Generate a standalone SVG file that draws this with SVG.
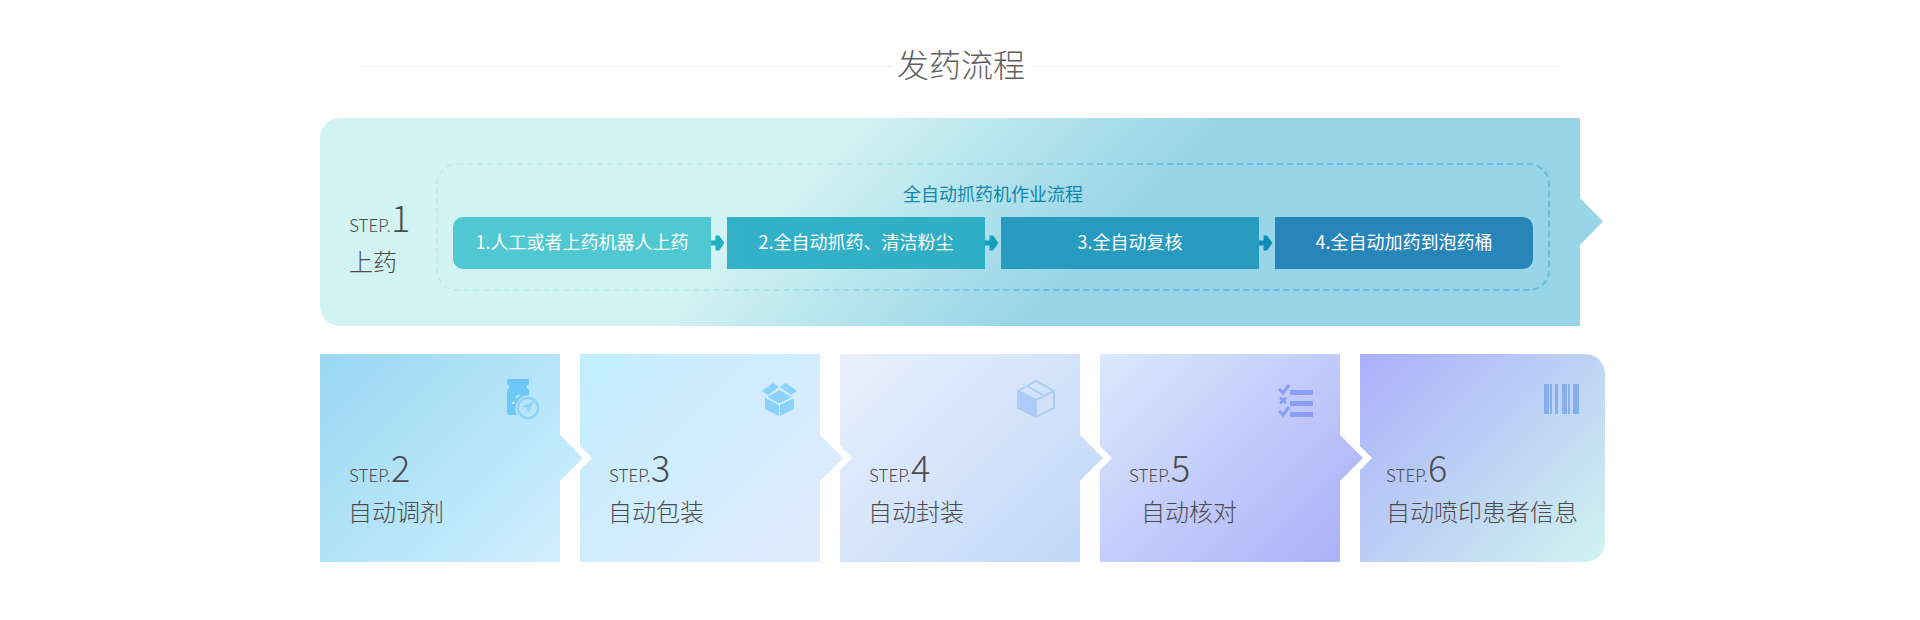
<svg xmlns="http://www.w3.org/2000/svg" width="1920" height="620" viewBox="0 0 1920 620">
<style>
text{font-family:"Noto Sans CJK SC","Noto Sans",sans-serif;font-weight:300;fill:#4c4c4c}
.label{font-size:24px}
.step{font-size:17px}
.num{font-size:36px}
.bt{font-size:18px;fill:#fff;font-weight:400;text-anchor:middle}
</style>
<defs>
<linearGradient id="gm" gradientUnits="userSpaceOnUse" x1="490" y1="490" x2="670" y2="670"><stop offset="0" stop-color="#d1f3f2"/><stop offset="1" stop-color="#99d5e8"/></linearGradient>
<linearGradient id="gd" gradientUnits="userSpaceOnUse" x1="490" y1="490" x2="670" y2="670"><stop offset="0" stop-color="#bfecec"/><stop offset="1" stop-color="#66bddc"/></linearGradient>
<linearGradient id="g2" gradientUnits="userSpaceOnUse" x1="328" y1="346" x2="552" y2="570"><stop offset="0" stop-color="#99d8f2"/><stop offset="1" stop-color="#cfefff"/></linearGradient>
<linearGradient id="g3" gradientUnits="userSpaceOnUse" x1="588" y1="346" x2="812" y2="570"><stop offset="0" stop-color="#c1eeff"/><stop offset="1" stop-color="#e1ebfd"/></linearGradient>
<linearGradient id="g4" gradientUnits="userSpaceOnUse" x1="848" y1="346" x2="1072" y2="570"><stop offset="0" stop-color="#e9f0fc"/><stop offset="1" stop-color="#c1d8f9"/></linearGradient>
<linearGradient id="g5" gradientUnits="userSpaceOnUse" x1="1108" y1="346" x2="1332" y2="570"><stop offset="0" stop-color="#dbe9fd"/><stop offset="1" stop-color="#abb0f8"/></linearGradient>
<linearGradient id="g6" gradientUnits="userSpaceOnUse" x1="1370" y1="346" x2="1596" y2="572"><stop offset="0" stop-color="#abaffa"/><stop offset="1" stop-color="#d0f4f0"/></linearGradient>
<linearGradient id="b2" gradientUnits="userSpaceOnUse" x1="727" y1="0" x2="985" y2="0"><stop offset="0" stop-color="#34b1c8"/><stop offset="1" stop-color="#2eaec4"/></linearGradient>
<path id="ar" d="M711 240.500h4.500v-5h3.500l5.500 7.500-5.500 7.500h-3.500v-5h-4.500z"/>
</defs>

<g id="title">
<path d="M360 66.500H892M1033 66.500H1560" stroke="#eceeee" fill="none"/>
<text x="897" y="77" style="font-size:32px;fill:#5f5f5f">发药流程</text>
</g>

<g id="step1">
<path d="M340 118H1580V198L1603 221.500 1580 245V326H340a20 20 0 0 1-20-20V138a20 20 0 0 1 20-20z" fill="url(#gm)"/>
<text x="349" y="232"><tspan class="step">STEP.</tspan><tspan class="num">1</tspan></text>
<text x="349" y="271" class="label">上药</text>
<rect x="437" y="164" width="1112" height="126" rx="20" fill="none" stroke="url(#gd)" stroke-width="2" stroke-dasharray="6 4"/>
<text x="993" y="201" text-anchor="middle" style="font-size:18px;fill:#1287aa;font-weight:400">全自动抓药机作业流程</text>
</g>

<g id="box1"><path d="M463 217H711V269H463a10 10 0 0 1-10-10V227a10 10 0 0 1 10-10z" fill="#50c8d1"/><text class="bt" x="582" y="249">1.人工或者上药机器人上药</text></g>
<g id="box2"><rect x="727" y="217" width="258" height="52" fill="url(#b2)"/><text class="bt" x="856" y="249">2.全自动抓药、清洁粉尘</text></g>
<g id="box3"><rect x="1001" y="217" width="258" height="52" fill="#279ac0"/><text class="bt" x="1130" y="249">3.全自动复核</text></g>
<g id="box4"><path d="M1275 217H1523a10 10 0 0 1 10 10V259a10 10 0 0 1-10 10H1275z" fill="#2885ba"/><text class="bt" x="1404" y="249">4.全自动加药到泡药桶</text></g>

<g id="connectors">
<use href="#ar" fill="#1fb0c2"/>
<use href="#ar" x="274" fill="#12a0bd"/>
<use href="#ar" x="548" fill="#0f8cb6"/>
</g>

<g id="step2">
<path d="M320 354H560V435L583 458 560 481V562H320z" fill="url(#g2)"/>
<path d="M510 379h18a1 1 0 0 1 1 1v4a1 1 0 0 1-1 1h-1v3l2 2v5a14 14 0 0 0-13 18l1 2h-7a3 3 0 0 1-3-3V391l2-3v-3h-1a1 1 0 0 1-1-1v-4a1 1 0 0 1 1-1z" fill="#6dc8f5"/>
<path d="M515 397l4-3 1.500 1.500-4 3zM512 402l3-1v3h-3z" fill="#b4e4f8"/>
<circle cx="528" cy="408" r="10" fill="none" stroke="#8fd4f8" stroke-width="2.500"/>
<path d="M534 401l-12 5.500 5 1.500 1.500 5z" fill="#8fd4f8"/>
<text x="349" y="482"><tspan class="step">STEP.</tspan><tspan class="num">2</tspan></text>
<text x="348" y="521" class="label">自动调剂</text>
</g>

<g id="step3">
<path d="M580 354H820V435L843 458 820 481V562H580V470L592 458 580 446z" fill="url(#g3)"/>
<path d="M762 391l11-8 6 4-11 8zM797 391l-11-8-6 4 11 8zM779.500 390l12 7-12 6.500-12-6.500zM765 398v11l14 7v-11zM794 398v11l-14 7v-11z" fill="#8ad2fd"/>
<text x="609" y="482"><tspan class="step">STEP.</tspan><tspan class="num">3</tspan></text>
<text x="608" y="521" class="label">自动包装</text>
</g>

<g id="step4">
<path d="M840 354H1080V435L1103 458 1080 481V562H840V470L852 458 840 446z" fill="url(#g4)"/>
<path d="M1018 391l18 9v17l-18-9z" fill="#aecbf8"/>
<path d="M1018 391l18-10 18 10v17l-18 9-18-9zM1018 391l18 9 18-9M1036 400v17M1027 386l18 10" fill="none" stroke="#aecbf8" stroke-width="2"/>
<text x="869" y="482"><tspan class="step">STEP.</tspan><tspan class="num">4</tspan></text>
<text x="868" y="521" class="label">自动封装</text>
</g>

<g id="step5">
<path d="M1100 354H1340V435L1363 458 1340 481V562H1100V470L1112 458 1100 446z" fill="url(#g5)"/>
<g fill="#8c9df5"><rect x="1290" y="390" width="23" height="5"/><rect x="1290" y="401" width="23" height="5"/><rect x="1290" y="412" width="23" height="5"/></g>
<path d="M1279 389l4 4 6-8M1279 411l4 4 6-8" fill="none" stroke="#8c9df5" stroke-width="3"/>
<path d="M1280 397.500l6 6M1286 397.500l-6 6" fill="none" stroke="#8c9df5" stroke-width="2.500"/>
<text x="1129" y="482"><tspan class="step">STEP.</tspan><tspan class="num">5</tspan></text>
<text x="1141" y="521" class="label">自动核对</text>
</g>

<g id="step6">
<path d="M1360 354H1585a20 20 0 0 1 20 20V542a20 20 0 0 1-20 20H1360V470L1372 458 1360 446z" fill="url(#g6)"/>
<g fill="#85aeec"><rect x="1544" y="384" width="5" height="30"/><rect x="1550" y="384" width="2" height="30"/><rect x="1555" y="384" width="3" height="30"/><rect x="1562" y="384" width="5" height="30"/><rect x="1568" y="384" width="2" height="30"/><rect x="1573" y="384" width="6" height="30"/></g>
<text x="1386" y="482"><tspan class="step">STEP.</tspan><tspan class="num">6</tspan></text>
<text x="1386" y="521" class="label">自动喷印患者信息</text>
</g>
</svg>
